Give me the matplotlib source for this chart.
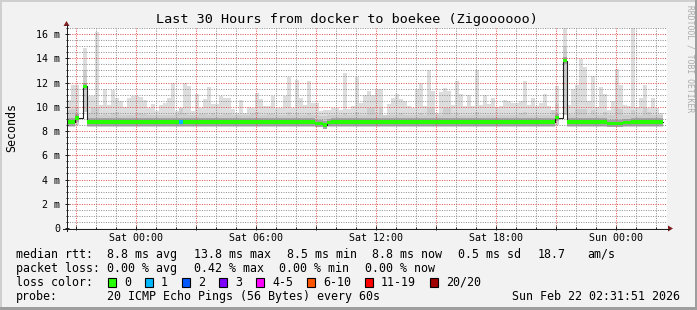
import numpy as np
import pandas as pd
import matplotlib
matplotlib.use("Agg")
import matplotlib.pyplot as plt
import matplotlib.dates as mdates
from matplotlib.lines import Line2D
from matplotlib.patches import Rectangle, Polygon
from matplotlib.ticker import FixedLocator, MultipleLocator, FuncFormatter

W, H = 697, 310
plt.rcParams["font.family"] = ["DejaVu Sans Mono"]

title = "Last 30 Hours from docker to boekee (Zigoooooo)"
y_label = "Seconds"
y_ticks = [0, 2, 4, 6, 8, 10, 12, 14, 16]
y_tick_labels = ["0", "2 m", "4 m", "6 m", "8 m", "10 m", "12 m", "14 m", "16 m"]
y_max = 16.5

t_start = pd.Timestamp("2026-02-20 20:31:51")
t_end = pd.Timestamp("2026-02-22 02:31:51")
bin_start = pd.Timestamp("2026-02-20 20:32:00")
n_bins = 150  # 12 minute bins

nan = np.nan

# top of the smoke (slowest ping), milliseconds
smoke_top = [
    10.58, 11.82, 11.82, nan, 14.85, 10.86, 10.86, 16.17, 10.12, 11.46,
    10.12, 11.41, 10.72, 10.50, 9.95, 10.72, 10.91, 10.91, 10.78, 10.58,
    9.90, 10.23, 9.68, 10.12, 10.30, 10.72, 11.96, 9.62, 9.62, 11.96,
    11.68, 9.62, 11.05, 9.90, 10.67, 11.60, 10.23, 10.23, 10.86, 10.72,
    10.72, 9.84, 9.48, 10.58, 9.48, 9.95, 9.90, 11.13, 10.67, 10.03,
    10.03, 10.86, 9.90, 9.90, 10.86, 12.42, 9.90, 12.23, 10.72, 10.17,
    12.10, 10.30, 10.30, 9.68, 9.76, 9.76, 9.90, 9.90, 9.76, 12.78,
    9.84, 10.03, 12.42, 10.30, 10.99, 11.33, 10.99, 11.46, 11.46, 9.35,
    10.23, 10.72, 11.05, 10.67, 10.50, 10.03, 9.90, 11.46, 11.96, 10.03,
    13.06, 11.27, 9.48, 11.22, 11.55, 11.27, 10.17, 12.15, 11.05, 10.03,
    10.99, 10.03, 13.06, 10.17, 10.99, 10.23, 10.72, 9.95, 10.03, 10.58,
    10.50, 10.30, 10.30, 10.45, 12.15, 10.17, 10.72, 10.03, 10.30, 11.05,
    10.03, 9.76, 11.68, nan, 16.60, 10.17, 11.46, 11.82, 13.94, 13.25,
    10.50, 12.51, 9.95, 11.60, 11.05, 9.76, 10.50, 13.14, 11.82, 10.17,
    10.03, 16.50, 9.95, 10.72, 11.82, 9.90, 10.72, 9.90, 9.48, nan,
]

# top of the denser inner smoke
smoke_mid = [
    9.7, 9.8, 10.0, nan, 13.0, 9.5, 9.9, 9.9, 9.3, 9.4,
    9.3, 9.5, 9.6, 9.3, 9.3, 9.3, 9.3, 9.5, 9.5, 9.4,
    9.3, 9.3, 9.3, 9.3, 9.3, 9.3, 9.3, 9.4, 9.9, 9.5,
    9.3, 9.3, 9.3, 9.4, 9.4, 9.3, 9.5, 9.3, 9.3, 9.4,
    9.4, 9.3, 9.3, 9.3, 9.3, 9.3, 9.4, 9.6, 9.3, 9.3,
    9.4, 9.4, 9.3, 9.3, 9.3, 9.6, 9.3, 9.5, 9.3, 9.3,
    9.5, 9.3, 9.3, 9.2, 9.2, 9.3, 9.3, 9.3, 9.3, 9.5,
    9.3, 9.3, 9.6, 9.3, 9.3, 9.9, 9.9, 9.3, 9.9, 9.3,
    9.3, 9.3, 9.3, 9.5, 9.3, 9.3, 9.3, 9.3, 9.5, 9.3,
    9.9, 9.9, 9.3, 9.3, 9.9, 9.9, 9.3, 9.5, 9.3, 9.3,
    9.3, 9.3, 9.6, 9.3, 9.3, 9.3, 9.3, 9.3, 9.3, 9.3,
    9.3, 9.3, 9.3, 9.5, 9.6, 9.3, 9.3, 9.3, 9.3, 9.3,
    9.3, 9.7, 10.2, nan, 15.0, 9.4, 9.3, 9.8, 9.8, 9.8,
    9.3, 9.7, 9.3, 9.3, 9.6, 9.3, 9.3, 9.9, 9.8, 9.3,
    9.3, 9.7, 9.3, 9.3, 9.9, 9.6, 9.3, 9.3, 9.3, nan,
]

# bottom of the smoke (fastest ping)
smoke_bot = [
    8.35, 8.35, 8.50, nan, 9.60, 8.35, 8.35, 8.35, 8.35, 8.35,
    8.35, 8.35, 8.35, 8.35, 8.35, 8.35, 8.35, 8.35, 8.35, 8.35,
    8.35, 8.35, 8.35, 8.35, 8.35, 8.35, 8.35, 8.35, 8.35, 8.35,
    8.35, 8.35, 8.35, 8.35, 8.35, 8.35, 8.35, 8.35, 8.35, 8.35,
    8.35, 8.35, 8.35, 8.35, 8.35, 8.35, 8.35, 8.35, 8.35, 8.35,
    8.35, 8.35, 8.35, 8.35, 8.35, 8.35, 8.35, 8.35, 8.35, 8.35,
    8.35, 8.35, 8.35, 8.30, 8.15, 8.35, 8.35, 8.35, 8.35, 8.35,
    8.35, 8.35, 8.35, 8.35, 8.35, 8.35, 8.35, 8.35, 8.35, 8.35,
    8.35, 8.35, 8.35, 8.35, 8.35, 8.35, 8.35, 8.35, 8.35, 8.35,
    8.35, 8.35, 8.35, 8.35, 8.35, 8.35, 8.35, 8.35, 8.35, 8.35,
    8.35, 8.35, 8.35, 8.35, 8.35, 8.35, 8.35, 8.35, 8.35, 8.35,
    8.35, 8.35, 8.35, 8.35, 8.35, 8.35, 8.35, 8.35, 8.35, 8.35,
    8.35, 8.35, 8.50, nan, 9.30, 8.35, 8.35, 8.35, 8.35, 8.35,
    8.35, 8.35, 8.35, 8.35, 8.35, 8.35, 8.35, 8.35, 8.35, 8.35,
    8.35, 8.35, 8.35, 8.35, 8.35, 8.35, 8.35, 8.35, 8.35, nan,
]

median = [
    8.75, 8.75, 9.07, nan, 11.70, 8.75, 8.75, 8.75, 8.75, 8.75,
    8.75, 8.75, 8.75, 8.75, 8.75, 8.75, 8.75, 8.75, 8.75, 8.75,
    8.75, 8.75, 8.75, 8.75, 8.75, 8.75, 8.75, 8.75, 8.75, 8.75,
    8.75, 8.75, 8.75, 8.75, 8.75, 8.75, 8.75, 8.75, 8.75, 8.75,
    8.75, 8.75, 8.75, 8.75, 8.75, 8.75, 8.75, 8.75, 8.75, 8.75,
    8.75, 8.75, 8.75, 8.75, 8.75, 8.75, 8.75, 8.75, 8.75, 8.75,
    8.75, 8.75, 8.65, 8.65, 8.50, 8.70, 8.75, 8.75, 8.75, 8.75,
    8.75, 8.75, 8.75, 8.75, 8.75, 8.75, 8.75, 8.75, 8.75, 8.75,
    8.75, 8.75, 8.75, 8.75, 8.75, 8.75, 8.75, 8.75, 8.75, 8.75,
    8.75, 8.75, 8.75, 8.75, 8.75, 8.75, 8.75, 8.75, 8.75, 8.75,
    8.75, 8.75, 8.75, 8.75, 8.75, 8.75, 8.75, 8.75, 8.75, 8.75,
    8.75, 8.75, 8.75, 8.75, 8.75, 8.75, 8.75, 8.75, 8.75, 8.75,
    8.75, 8.75, 9.10, nan, 13.80, 8.75, 8.75, 8.75, 8.75, 8.75,
    8.75, 8.75, 8.75, 8.75, 8.75, 8.65, 8.65, 8.65, 8.65, 8.70,
    8.70, 8.75, 8.75, 8.75, 8.75, 8.75, 8.75, 8.75, 8.75, nan,
]

# lost pings out of 20
loss = [
    0, 0, 0, nan, 0, 0, 0, 0, 0, 0,
    0, 0, 0, 0, 0, 0, 0, 0, 0, 0,
    0, 0, 0, 0, 0, 0, 0, 0, 1, 0,
    0, 0, 0, 0, 0, 0, 0, 0, 0, 0,
    0, 0, 0, 0, 0, 0, 0, 0, 0, 0,
    0, 0, 0, 0, 0, 0, 0, 0, 0, 0,
    0, 0, 0, 0, 0, 0, 0, 0, 0, 0,
    0, 0, 0, 0, 0, 0, 0, 0, 0, 0,
    0, 0, 0, 0, 0, 0, 0, 0, 0, 0,
    0, 0, 0, 0, 0, 0, 0, 0, 0, 0,
    0, 0, 0, 0, 0, 0, 0, 0, 0, 0,
    0, 0, 0, 0, 0, 0, 0, 0, 0, 0,
    0, 0, 0, nan, 0, 0, 0, 0, 0, 0,
    0, 0, 0, 0, 0, 0, 0, 0, 0, 0,
    0, 0, 0, 0, 0, 0, 0, 0, 0, nan,
]

loss_labels = ["0", "1", "2", "3", "4-5", "6-10", "11-19", "20/20"]
loss_upper = [0, 1, 2, 3, 5, 10, 19, 20]
loss_colors = ["#26ff00", "#00b8ff", "#0059ff", "#7e00ff",
               "#ff00ff", "#ff5500", "#ff0000", "#a10000"]

rtt_stats = ["8.8 ms avg", "13.8 ms max", "8.5 ms min", "8.8 ms now",
             "0.5 ms sd", "18.7", "am/s"]
loss_stats = ["0.00 % avg", "0.42 % max", "0.00 % min", "0.00 % now"]
probe_text = "20 ICMP Echo Pings (56 Bytes) every 60s"
stamp = "Sun Feb 22 02:31:51 2026"


def fx(px):
    return px / W


def fy(py):
    return 1 - py / H


def steps(v):
    return np.repeat(np.asarray(v, dtype=float), 2)


fig = plt.figure(figsize=(W / 100, H / 100), dpi=100, facecolor="#f2f2f2")
ax = fig.add_axes([fx(67), fy(228), 600 / W, 200 / H])
ax.set_facecolor("white")
for s in ax.spines.values():
    s.set_visible(False)

edges = mdates.date2num(pd.date_range(bin_start, periods=n_bins + 1, freq="12min"))
xx = np.repeat(edges, 2)[1:-1]
top, mid, bot, med = steps(smoke_top), steps(smoke_mid), steps(smoke_bot), steps(median)

# smoke
ax.fill_between(xx, bot, top, color="#dddddd", lw=0, zorder=1)
ax.fill_between(xx, bot, mid, color="#cdcdcd", lw=0, zorder=1.1)
ax.fill_between(xx, np.maximum(bot, med - 0.3), med + 0.3, color="#a4a4a4", lw=0, zorder=1.2)

# median line + loss coloured band
med_line = steps(pd.Series(median).ffill(limit_area="inside"))
ax.plot(xx, med_line, color="#202020", lw=0.8, zorder=3)
loss_arr = np.asarray(loss, dtype=float)
loss_idx = np.full(n_bins, -1)
ok = ~np.isnan(loss_arr)
loss_idx[ok] = np.searchsorted(loss_upper, loss_arr[ok])
idx2 = np.repeat(loss_idx, 2)
for k, col in enumerate(loss_colors):
    m = idx2 == k
    if m.any():
        ax.fill_between(xx, med - 0.13, med + 0.13, where=m, color=col, lw=0, zorder=4)

# scales, grid
ax.set_xlim(mdates.date2num(t_start), mdates.date2num(t_end))
ax.set_ylim(0, y_max)
ax.yaxis.set_major_locator(FixedLocator(y_ticks))
ax.set_yticklabels(y_tick_labels)
ax.yaxis.set_minor_locator(MultipleLocator(0.5))
ax.xaxis.set_major_locator(mdates.HourLocator(byhour=range(0, 24, 3)))
ax.xaxis.set_minor_locator(mdates.HourLocator())


def fmt_time(v, pos):
    d = mdates.num2date(v)
    return d.strftime("%a %H:%M") if d.hour % 6 == 0 else ""


ax.xaxis.set_major_formatter(FuncFormatter(fmt_time))
ax.set_axisbelow(False)
ax.grid(which="minor", color=(0.56, 0.56, 0.56, 0.42), lw=0.72, ls=(0, (1, 1.4)))
ax.grid(which="major", color=(0.87, 0.31, 0.31, 0.42), lw=0.72, ls=(0, (1, 1.4)))
ax.tick_params(which="major", direction="inout", length=3, width=0.72,
               color="#1f1f1f", labelsize=7.2)
ax.tick_params(which="minor", direction="inout", length=1.5, width=0.72, color="#1f1f1f")
ax.tick_params(axis="y", which="major", pad=3.3)
ax.tick_params(axis="x", which="major", pad=2.0)

# axes with arrows
axis_col = "#1f1f1f"
arrow_col = (0.5, 0.12, 0.12)
fig.add_artist(Line2D([fx(66.5), fx(66.5)], [fy(231), fy(25)], color=axis_col, lw=0.72))
fig.add_artist(Line2D([fx(63), fx(669)], [fy(228.5), fy(228.5)], color=axis_col, lw=0.72))
fig.add_artist(Polygon([(fx(63.5), fy(26)), (fx(69.5), fy(26)), (fx(66.5), fy(21))],
                       closed=True, color=arrow_col, lw=0))
fig.add_artist(Polygon([(fx(668), fy(225.5)), (fx(668), fy(231.5)), (fx(673), fy(228.5))],
                       closed=True, color=arrow_col, lw=0))

# 3d border
shade_a, shade_b = "#cfcfcf", "#9e9e9e"
for (x0, y0, w, h, c) in [(0, 0, W, 2, shade_a), (0, 0, 2, H, shade_a),
                          (0, H - 3, W, 3, shade_b), (W - 2, 0, 2, H, shade_b)]:
    fig.add_artist(Rectangle((fx(x0), fy(y0 + h)), w / W, h / H, color=c, lw=0))

# texts
fs = 8.34
fig.text(fx(347), fy(23.5), title, ha="center", va="baseline", fontsize=9.7)
fig.text(fx(11.5), fy(128), y_label, rotation=90, ha="center", va="center", fontsize=fs)
fig.text(fx(690), fy(5), "RRDTOOL / TOBI OETIKER", rotation=-90, ha="center", va="top",
         fontsize=5.8, color="#ababab")

rows = [257.7, 271.7, 285.7, 299.8]
fig.text(fx(16), fy(rows[0]), "median rtt:", va="baseline", fontsize=fs)
for s, px in zip(rtt_stats, [107, 194, 287, 372, 458, 538, 587]):
    fig.text(fx(px), fy(rows[0]), s, va="baseline", fontsize=fs)
fig.text(fx(16), fy(rows[1]), "packet loss:", va="baseline", fontsize=fs)
for s, px in zip(loss_stats, [107, 194, 279, 365]):
    fig.text(fx(px), fy(rows[1]), s, va="baseline", fontsize=fs)
fig.text(fx(16), fy(rows[2]), "loss color:", va="baseline", fontsize=fs)
bx = 108
for lab, col in zip(loss_labels, loss_colors):
    fig.add_artist(Rectangle((fx(bx), fy(286.5)), 7.5 / W, 8.5 / H,
                             facecolor=col, edgecolor="black", lw=0.8))
    fig.text(fx(bx + 16), fy(rows[2]), lab, va="baseline", fontsize=fs)
    bx += 30 + 7 * len(lab)
fig.text(fx(16), fy(rows[3]), "probe:", va="baseline", fontsize=fs)
fig.text(fx(107), fy(rows[3]), probe_text, va="baseline", fontsize=fs)
fig.text(fx(680), fy(rows[3]), stamp, ha="right", va="baseline", fontsize=fs)

fig.savefig("out.png", dpi=100, facecolor=fig.get_facecolor())
